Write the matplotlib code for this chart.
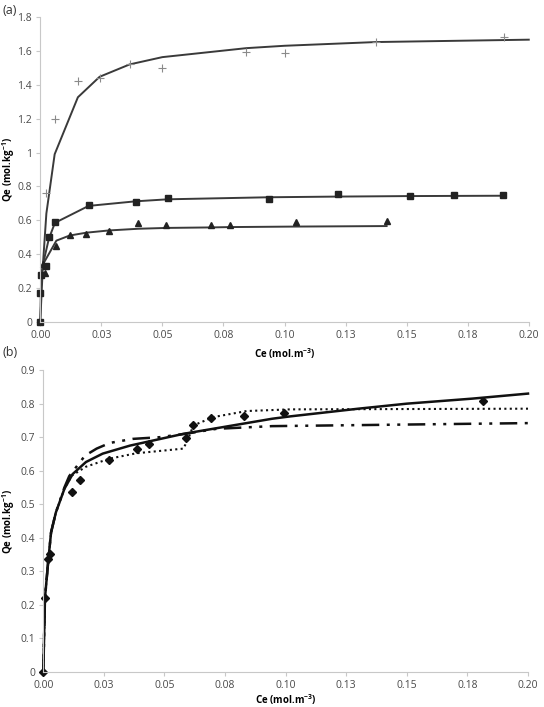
import numpy as np
import matplotlib
matplotlib.use("Agg")
import matplotlib.pyplot as plt

plt.rcParams['font.family'] = ['Open Sans', 'DejaVu Sans']
plt.rcParams['mathtext.default'] = 'regular'

# x tick labels (Excel style rounding)
x_ticks = [0, 0.025, 0.05, 0.075, 0.1, 0.125, 0.15, 0.175, 0.2]
x_labels = ['0.00', '0.03', '0.05', '0.08', '0.10', '0.13', '0.15', '0.18', '0.20']

# ---- panel (a) ----
plus_x = [0.0025, 0.0059, 0.0154, 0.0243, 0.0366, 0.05, 0.0844, 0.1, 0.1374, 0.190]
plus_y = [0.764, 1.20, 1.42, 1.437, 1.524, 1.50, 1.595, 1.585, 1.652, 1.681]
plus_fit_x = [0, 0.0011, 0.0025, 0.0059, 0.0154, 0.0243, 0.0366, 0.05, 0.0844, 0.1, 0.1374, 0.2]
plus_fit_y = [0, 0.34, 0.64, 0.99, 1.326, 1.447, 1.52, 1.563, 1.616, 1.63, 1.652, 1.666]

sq_x = [0, 0, 0.0004, 0.0025, 0.0035, 0.006, 0.0198, 0.039, 0.0523, 0.0937, 0.122, 0.1514, 0.1695, 0.1896]
sq_y = [0, 0.172, 0.28, 0.33, 0.50, 0.588, 0.691, 0.707, 0.730, 0.728, 0.756, 0.746, 0.748, 0.748]
sq_fit_x = [0, 0.0004, 0.0011, 0.0035, 0.006, 0.0198, 0.039, 0.0523, 0.0937, 0.122, 0.1514, 0.1896]
sq_fit_y = [0, 0.28, 0.34, 0.49, 0.585, 0.685, 0.712, 0.724, 0.736, 0.74, 0.743, 0.745]

tri_x = [0.0011, 0.002, 0.0066, 0.012, 0.0189, 0.028, 0.04, 0.0516, 0.0701, 0.0776, 0.1045, 0.1418]
tri_y = [0.342, 0.29, 0.448, 0.513, 0.519, 0.537, 0.586, 0.574, 0.573, 0.571, 0.588, 0.598]
tri_fit_x = [0.0011, 0.0066, 0.012, 0.0189, 0.028, 0.04, 0.0516, 0.0701, 0.0776, 0.1045, 0.1418]
tri_fit_y = [0.34, 0.48, 0.51, 0.527, 0.54, 0.55, 0.555, 0.558, 0.56, 0.563, 0.566]

# ---- panel (b) ----
dia_x = [0, 0.0007, 0.0021, 0.0028, 0.0117, 0.0151, 0.027, 0.0385, 0.0437, 0.0588, 0.0616, 0.0691, 0.0828, 0.0994, 0.1813]
dia_y = [0, 0.222, 0.336, 0.353, 0.536, 0.573, 0.633, 0.666, 0.680, 0.698, 0.735, 0.756, 0.762, 0.773, 0.808]

solid_x = [0, 0.0007, 0.0021, 0.0032, 0.0052, 0.0087, 0.0121, 0.0176, 0.0245, 0.0358, 0.0578, 0.0944, 0.1018, 0.13, 0.15, 0.177, 0.2]
solid_y = [0, 0.222, 0.336, 0.416, 0.476, 0.546, 0.59, 0.626, 0.651, 0.675, 0.71, 0.755, 0.762, 0.785, 0.80, 0.815, 0.83]

dot_x = [0, 0.0007, 0.0021, 0.0032, 0.0052, 0.0087, 0.0117, 0.0176, 0.0273, 0.0383, 0.0578, 0.0598, 0.0619, 0.0702, 0.0839, 0.1018, 0.2]
dot_y = [0, 0.222, 0.336, 0.416, 0.476, 0.546, 0.585, 0.612, 0.636, 0.652, 0.666, 0.695, 0.735, 0.76, 0.778, 0.783, 0.785]

dd_x = [0, 0.0007, 0.0021, 0.0032, 0.0052, 0.0087, 0.0107, 0.0172, 0.022, 0.0275, 0.037, 0.048, 0.0585, 0.0715, 0.0944, 0.2]
dd_y = [0, 0.222, 0.336, 0.416, 0.476, 0.55, 0.584, 0.645, 0.666, 0.683, 0.695, 0.70, 0.71, 0.725, 0.733, 0.742]

fig = plt.figure(figsize=(5.44, 7.07), dpi=100)
ax1 = fig.add_axes([0.074, 0.5446, 0.898, 0.4314])
ax2 = fig.add_axes([0.0796, 0.0495, 0.891, 0.427])

def style(ax, ymax, ystep, ylab_x, xlab_y):
    ax.set_xlim(0, 0.2)
    ax.set_ylim(0, ymax)
    ax.set_xticks(x_ticks)
    ax.set_xticklabels(x_labels)
    yt = np.round(np.arange(0, ymax + 1e-9, ystep), 1)
    ax.set_yticks(yt)
    ax.set_yticklabels(['0' if v == 0 else ('1' if v == 1 else '%g' % v) for v in yt])
    for s in ['top', 'right']:
        ax.spines[s].set_visible(False)
    for s in ['left', 'bottom']:
        ax.spines[s].set_color('#c8c8c8')
        ax.spines[s].set_linewidth(0.8)
    ax.tick_params(length=3, color='#c8c8c8', labelsize=7.5, labelcolor='#4a4a4a', pad=3)
    ax.set_xlabel('Ce (mol.m$^{-3}$)', fontsize=7, fontweight='bold', va='center')
    ax.set_ylabel('Qe (mol.kg$^{-1}$)', fontsize=7, fontweight='bold', va='center')
    ax.xaxis.set_label_coords(0.5, xlab_y)
    ax.yaxis.set_label_coords(ylab_x, 0.5)

ax1.plot(plus_fit_x, plus_fit_y, color='#3a3a3a', lw=1.4, clip_on=False)
ax1.plot(plus_x, plus_y, '+', color='#8a8a8a', ms=6, mew=0.8, clip_on=False)
ax1.plot(sq_fit_x, sq_fit_y, color='#3a3a3a', lw=1.4, clip_on=False)
ax1.plot(sq_x, sq_y, 's', color='#222222', ms=5, clip_on=False)
ax1.plot(tri_fit_x, tri_fit_y, color='#3a3a3a', lw=1.4, clip_on=False)
ax1.plot(tri_x, tri_y, '^', color='#222222', ms=5, clip_on=False)
style(ax1, 1.8, 0.2, -0.064, -0.103)

ax2.plot(dot_x, dot_y, color='#111111', lw=1.5, linestyle=(0, (1, 1.6)), clip_on=False)
ax2.plot(dd_x, dd_y, color='#111111', lw=1.8, linestyle=(0, (7, 3, 1.2, 3, 1.2, 3)), clip_on=False)
ax2.plot(solid_x, solid_y, color='#111111', lw=1.8, clip_on=False)
ax2.plot(dia_x, dia_y, 'D', color='#111111', ms=3.8, clip_on=False)
style(ax2, 0.9, 0.1, -0.071, -0.092)

fig.text(0.005, 0.995, '(a)', fontsize=9, color='#333333', va='top', ha='left')
fig.text(0.005, 0.51, '(b)', fontsize=9, color='#333333', va='top', ha='left')

fig.savefig('out.png', dpi=100)
